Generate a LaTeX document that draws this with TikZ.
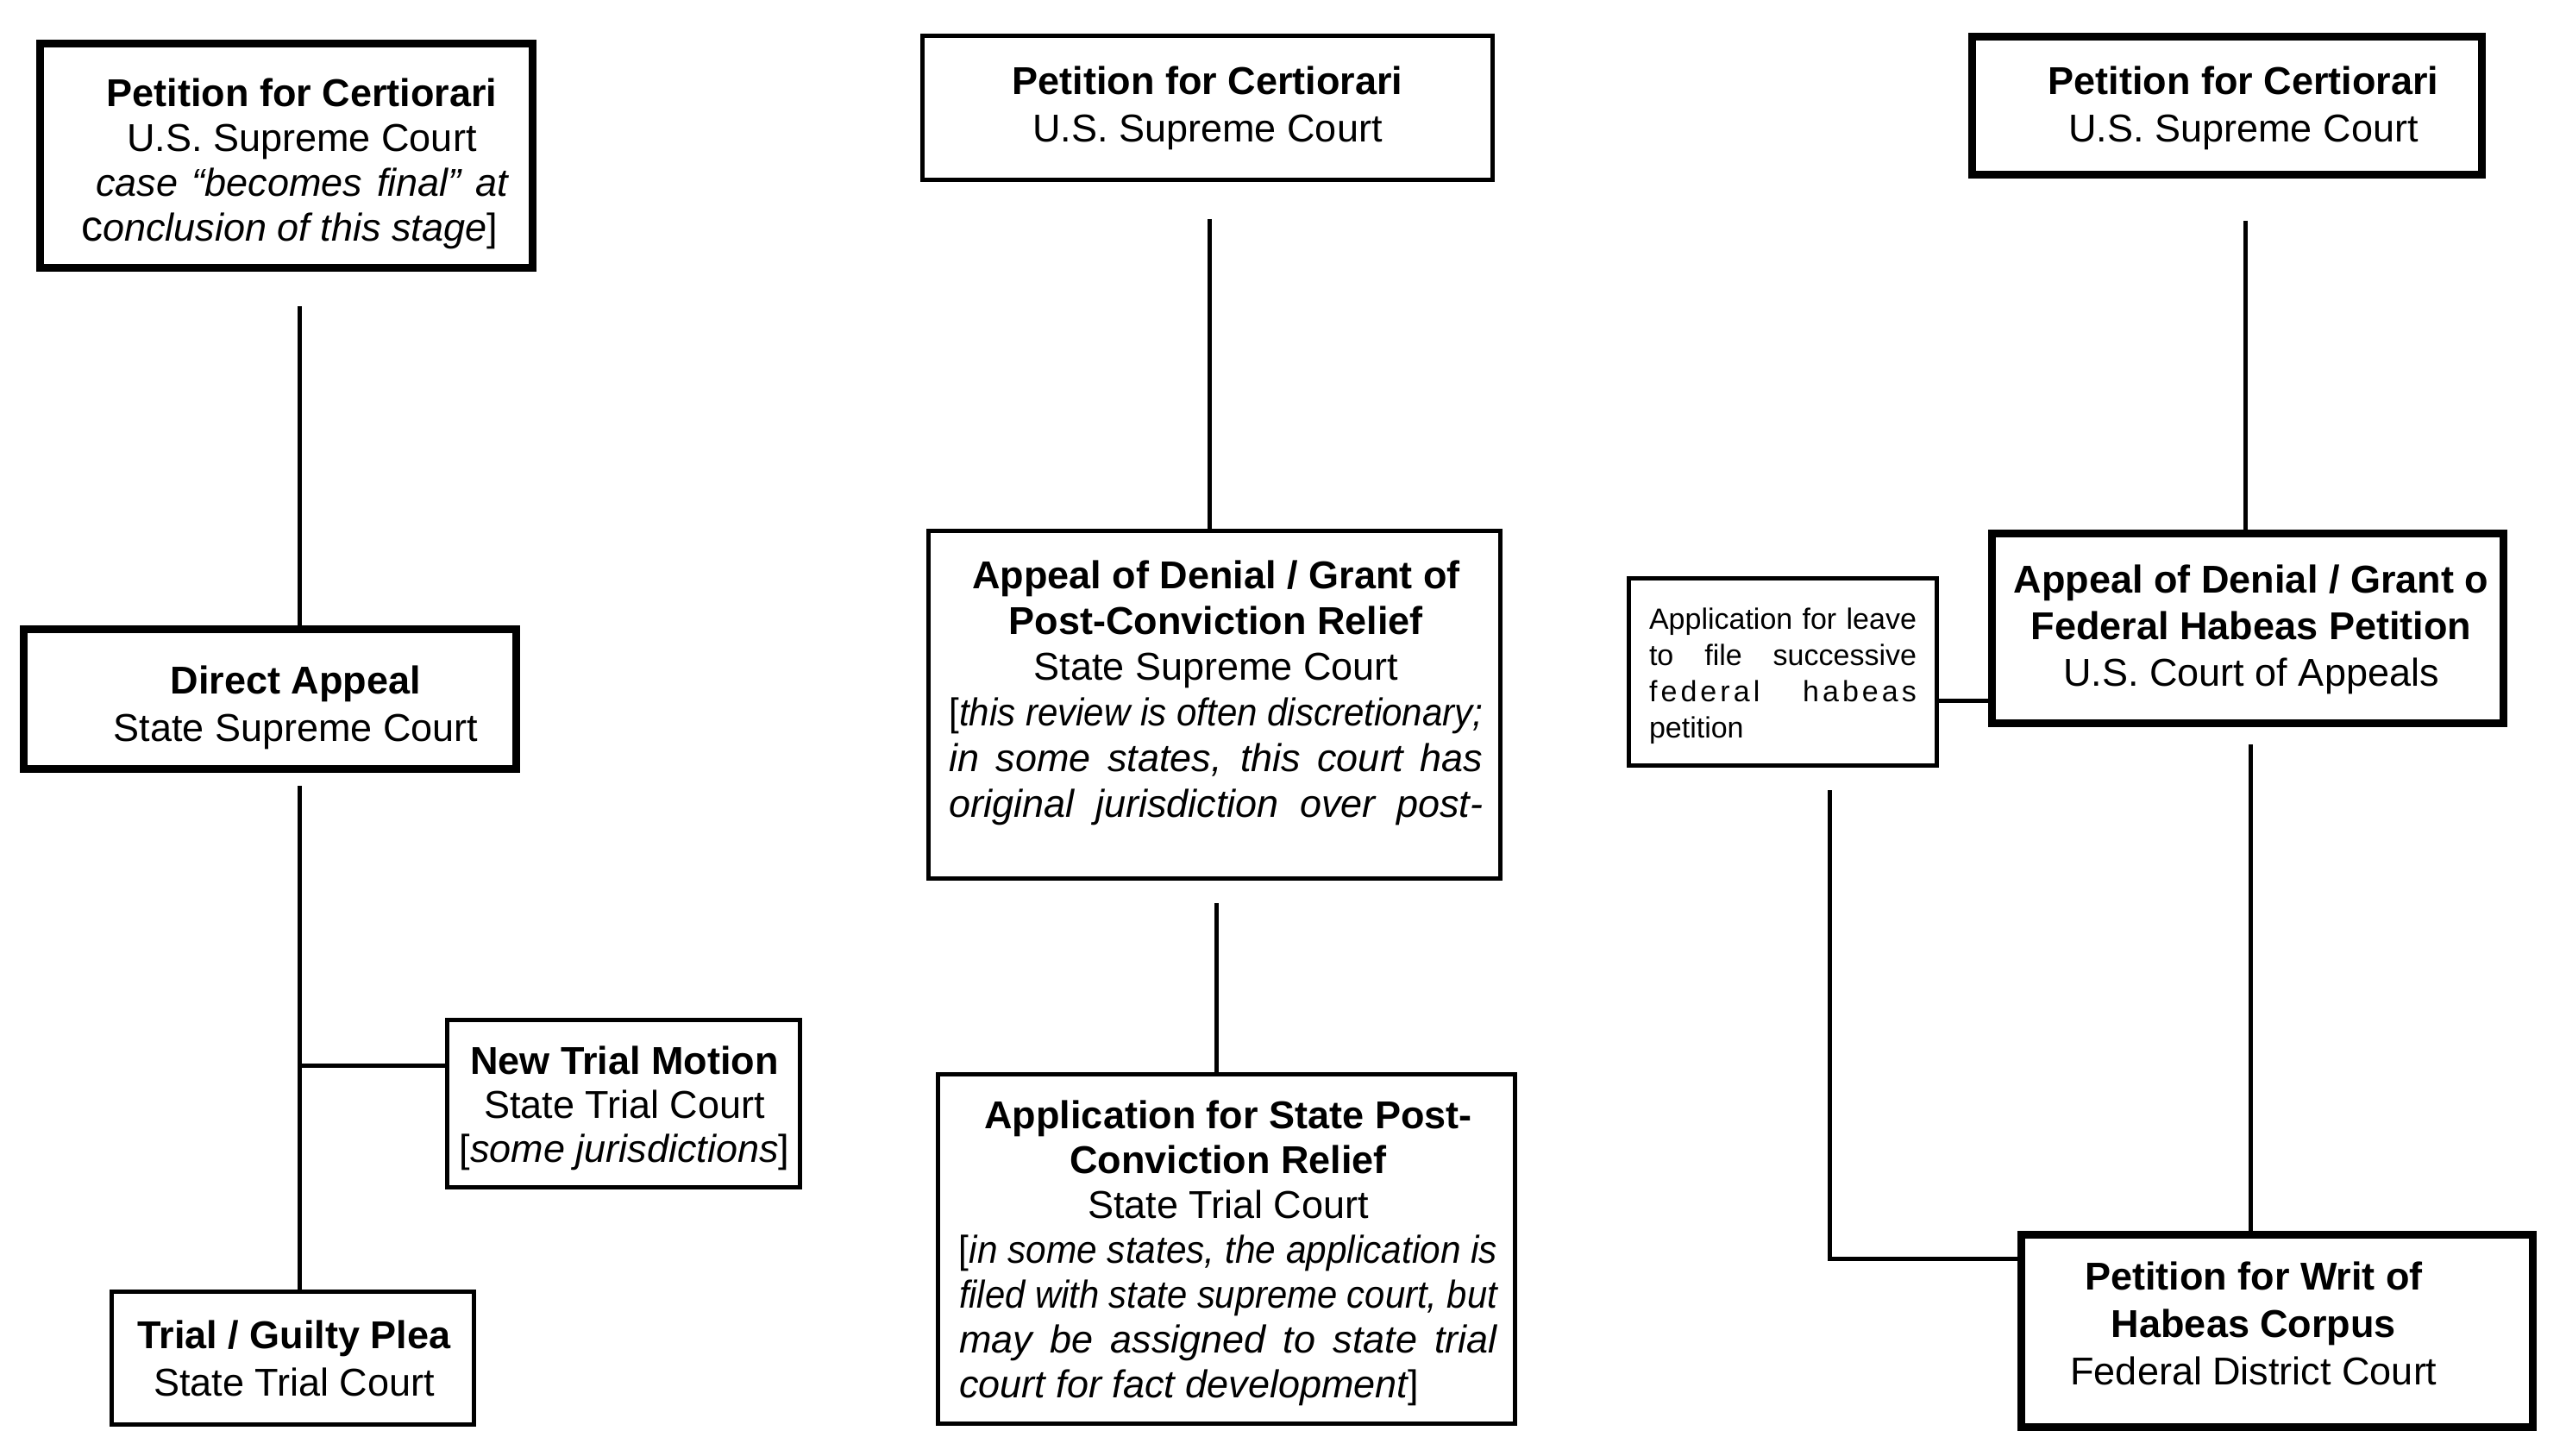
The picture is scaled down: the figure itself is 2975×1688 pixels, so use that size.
\documentclass[tikz,border=0pt]{standalone}
\usepackage{fontspec}
\setmainfont{Liberation Sans}
\usepackage{graphicx}
\newlength\jlw
\newcommand\jline[2]{\settowidth\jlw{#2}\ifdim\jlw>#1\relax\resizebox{#1}{\height}{#2}\else\makebox[#1][s]{#2}\fi}
\begin{document}
\begin{tikzpicture}[x=1pt,y=-1pt,
  thinbox/.style={draw, line width=5pt, inner sep=0pt},
  thickbox/.style={draw, line width=9pt, inner sep=0pt},
  txt/.style={align=center, inner sep=0pt, font=\fontsize{45}{#1}\selectfont},
  txt/.default=53,
  smalltxt/.style={align=center, inner sep=0pt, font=\fontsize{34}{42}\selectfont},
  conn/.style={draw, line width=5pt, line join=miter}]
\fill[white] (0,0) rectangle (2975,1688);
\useasboundingbox (0,0) rectangle (2975,1688);

% boxes
\node[thickbox, minimum width=571pt, minimum height=260pt] (A) at (332,180.5) {};
\node[thickbox, minimum width=571pt, minimum height=162pt] (B) at (313,810.5) {};
\node[thinbox, minimum width=409pt, minimum height=194pt] (C) at (723,1279.5) {};
\node[thinbox, minimum width=420pt, minimum height=154pt] (D) at (339.5,1574.5) {};
\node[thinbox, minimum width=661pt, minimum height=167pt] (E) at (1400,125) {};
\node[thinbox, minimum width=663pt, minimum height=403pt] (F) at (1408,817) {};
\node[thinbox, minimum width=669pt, minimum height=405pt] (G) at (1422,1448) {};
\node[thickbox, minimum width=591pt, minimum height=160pt] (H) at (2582,122.5) {};
\node[thickbox, minimum width=593pt, minimum height=220pt] (I) at (2606,728.5) {};
\node[thinbox, minimum width=357pt, minimum height=217pt] (J) at (2067,779) {};
\node[thickbox, minimum width=593pt, minimum height=223pt] (K) at (2640,1543) {};

% texts
\node[txt=52] (At) at (350,190) {\textbf{Petition for Certiorari}\\U.S. Supreme Court\\
  \jline{478pt}{\itshape case “becomes final” at}\\
  \makebox[478pt][l]{\hspace*{-17pt}\fontsize{50}{52}\selectfont c\fontsize{45}{52}\selectfont\itshape onclusion of this stage\upshape]}};
\node[txt=55] (Bt) at (343,820) {\textbf{Direct Appeal}\\State Supreme Court};
\node[txt=51] (Ct) at (724,1285) {\textbf{New Trial Motion}\\State Trial Court\\{[}\textit{some jurisdictions}]};
\node[txt=55] (Dt) at (341,1575) {\textbf{Trial / Guilty Plea}\\State Trial Court};
\node[txt=55] (Et) at (1400,125) {\textbf{Petition for Certiorari}\\U.S. Supreme Court};
\node[txt=53] (Ft) at (1410,803) {\textbf{Appeal of Denial / Grant of}\\\textbf{Post-Conviction Relief}\\State Supreme Court\\
  \jline{619pt}{[\itshape this review is often discretionary;}\\
  \jline{619pt}{\itshape in some states, this court has}\\
  \jline{619pt}{\itshape original jurisdiction over post-}};
\node[txt=52] (Gt) at (1424,1453) {\textbf{Application for State Post-}\\\textbf{Conviction Relief}\\State Trial Court\\
  \jline{624pt}{[\itshape in some states, the application is}\\
  \jline{624pt}{\itshape filed with state supreme court, but}\\
  \jline{624pt}{\itshape may be assigned to state trial}\\
  \makebox[624pt][l]{\itshape court for fact development\upshape]}};
\node[txt=55] (Ht) at (2601,125) {\textbf{Petition for Certiorari}\\U.S. Supreme Court};
\node[txt=54] (It) at (2610,730) {\textbf{Appeal of Denial / Grant o}\\\textbf{Federal Habeas Petition}\\U.S. Court of Appeals};
\node[smalltxt] (Jt) at (2067,784) {\jline{310pt}{Application for leave}\\
  \jline{310pt}{to file successive}\\
  \jline{310pt}{\addfontfeature{LetterSpace=12}federal habeas}\\
  \makebox[310pt][l]{petition}};
\node[txt=55] (Kt) at (2613,1534) {\textbf{Petition for Writ of}\\\textbf{Habeas Corpus}\\Federal District Court};

% line x positions
\coordinate (xa) at (347,0);
\coordinate (xe) at (1402,0);
\coordinate (xf) at (1410,0);
\coordinate (xh) at (2603,0);
\coordinate (xi) at (2609,0);
\coordinate (xj) at (2121,0);

% connectors
\draw[conn] ([yshift=-40pt]A.south -| xa) -- (B.north -| xa);
\draw[conn] ([yshift=-15pt]B.south -| xa) -- (D.north -| xa);
\draw[conn] ([yshift=44pt]C.west -| xa) -- ([yshift=44pt]C.west);
\draw[conn] ([yshift=-43pt]E.south -| xe) -- (F.north -| xe);
\draw[conn] ([yshift=-26pt]F.south -| xf) -- (G.north -| xf);
\draw[conn] ([yshift=-49pt]H.south -| xh) -- (I.north -| xh);
\draw[conn] ([yshift=-20pt]I.south -| xi) -- (K.north -| xi);
\draw[conn] ([yshift=-33pt]J.east) -- ([yshift=-33pt]J.east -| I.west);
\draw[conn] ([yshift=-26pt]J.south -| xj) |- ([yshift=84pt]K.west);
\end{tikzpicture}
\end{document}
